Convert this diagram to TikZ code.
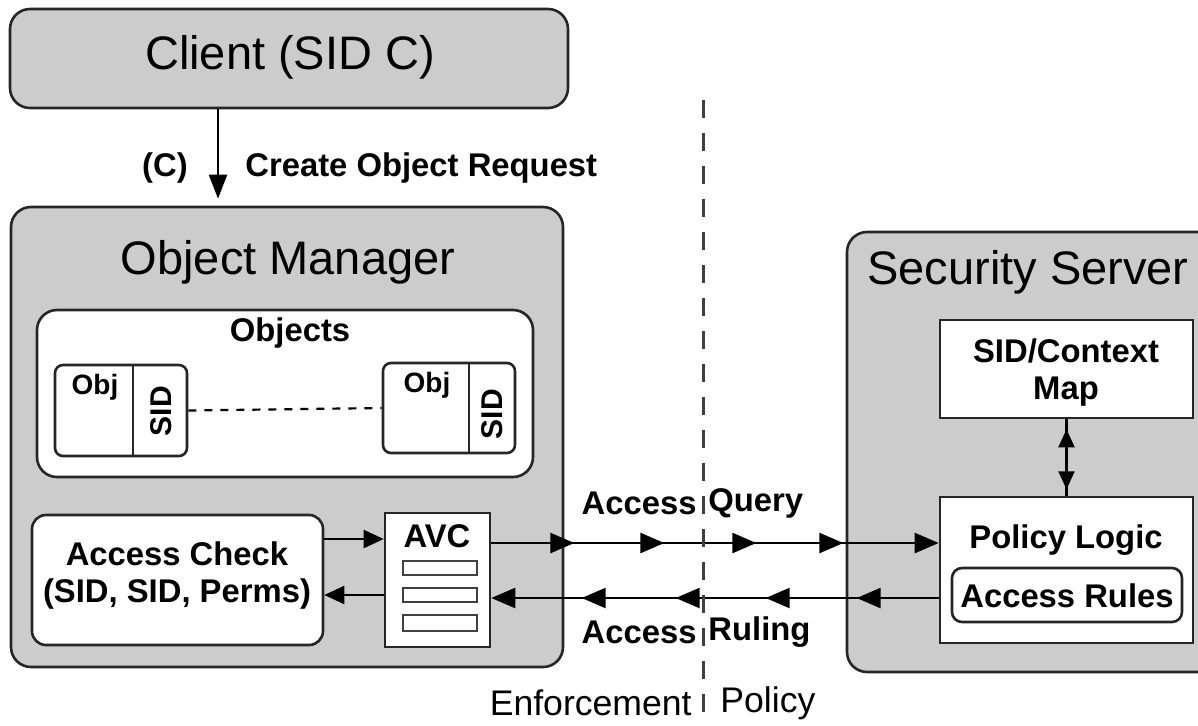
\documentclass[tikz,border=0pt]{standalone}
\usepackage{fontspec}
\setmainfont{Liberation Sans}
\usetikzlibrary{arrows.meta,decorations.markings,fit}

\begin{document}
\begin{tikzpicture}[x=0.5pt,y=-0.5pt,
  box/.style={draw=black!85, line width=1.3pt, inner sep=0pt},
  graybox/.style={box, fill=gray!40, rounded corners=10pt},
  whitebox/.style={box, fill=white},
  title/.style={font=\fontsize{23.5pt}{28pt}\selectfont, inner sep=0pt},
  lbl/.style={font=\fontsize{16.4pt}{18.5pt}\selectfont\bfseries, inner sep=0pt, align=center},
  objlbl/.style={font=\fontsize{14pt}{16pt}\selectfont\bfseries, inner sep=0pt},
  plain/.style={font=\fontsize{17.8pt}{20pt}\selectfont, inner sep=0pt},
  bar/.style={draw=black!75, line width=1.2pt, fill=white},
  mainline/.style={draw=black, line width=1.3pt},
  bigtip/.style={-{Triangle[length=12pt,width=10pt]}},
  smalltip/.style={-{Triangle[length=10pt,width=9pt]}},
  divider/.style={draw=black!75, line width=1.5pt, dash pattern=on 9pt off 7.5pt},
  objline/.style={draw=black, line width=1.1pt, dash pattern=on 4pt off 4pt},
]
\useasboundingbox (0,0) rectangle (1198,725);
\clip (0,0) rectangle (1198,725);

% Client
\node[graybox, fit={(10,9) (568,108)}] (client) {};
\node[title] (clientt) at (290,57) {Client (SID C)};

% Object Manager
\node[graybox, fit={(11,207) (563,667)}] (om) {};
\node[title] (omt) at (288,262) {Object Manager};

\node[whitebox, rounded corners=10pt, fit={(37,310) (533,477)}] (objs) {};
\node[lbl] (objst) at (290,333) {Objects};

\node[whitebox, rounded corners=4pt, fit={(55,365) (187,456)}] (obj1) {};
\draw[box] (133,365) -- (133,456);
\node[objlbl] (obj1t) at (95,387) {Obj};
\node[lbl, rotate=90, font=\fontsize{15pt}{17pt}\selectfont\bfseries] (sid1) at (161,411) {SID};

\node[whitebox, rounded corners=4pt, fit={(383,363) (515,453)}] (obj2) {};
\draw[box] (469,363) -- (469,453);
\node[objlbl] (obj2t) at (427,385) {Obj};
\node[lbl, rotate=90, font=\fontsize{15pt}{17pt}\selectfont\bfseries] (sid2) at (492,414) {SID};

\draw[objline] (obj1.east) -- (obj2.west);

\node[whitebox, rounded corners=7pt, fit={(32,515) (323,645)}] (ac) {};
\node[lbl] (act) at (177,576) {Access Check\\(SID, SID, Perms)};

\node[whitebox, fit={(385,513) (490,647)}] (avc) {};
\node[lbl] (avct) at (437,536) {AVC};
\draw[bar] (403,561) rectangle (477,575);
\draw[bar] (403,588) rectangle (477,602);
\draw[bar] (403,615) rectangle (477,631);

\draw[mainline, line width=1.1pt, smalltip] (ac.east |- 0,539) -- (avc.west |- 0,539);
\draw[mainline, line width=1.1pt, smalltip] (avc.west |- 0,595) -- (ac.east |- 0,595);

% Security Server
\node[graybox, fit={(847,232) (1225,672)}] (ss) {};
\node[title] (sst) at (1028,272) {Security Server};

\node[whitebox, fit={(940,320) (1193,418)}] (map) {};
\node[lbl] (mapt) at (1066,373) {SID/Context\\Map};
\node[whitebox, fit={(940,497) (1193,643)}] (pl) {};
\node[lbl] (plt) at (1066,540) {Policy Logic};
\node[whitebox, rounded corners=5pt, fit={(952,568) (1182,622)}] (rules) {};
\node[lbl] (rulest) at (1067,596) {Access Rules};

\draw[mainline, line width=1.1pt, postaction={decorate}, decoration={markings,
   mark=at position 5pt with {\arrowreversed{Triangle[length=9pt,width=8pt]}},
   mark=at position 35pt with {\arrow{Triangle[length=9pt,width=8pt]}}}]
   (map.south) -- (pl.north);

% Query and ruling
\draw[mainline, bigtip, postaction={decorate}, decoration={markings,
   mark=at position 41.5pt with {\arrow{Triangle[length=12pt,width=10pt]}},
   mark=at position 86.5pt with {\arrow{Triangle[length=12pt,width=10pt]}},
   mark=at position 132.5pt with {\arrow{Triangle[length=12pt,width=10pt]}},
   mark=at position 176pt with {\arrow{Triangle[length=12pt,width=10pt]}}}]
   (avc.east |- 0,543) -- (pl.west |- 0,543);
\draw[mainline, bigtip, postaction={decorate}, decoration={markings,
   mark=at position 41pt with {\arrow{Triangle[length=12pt,width=10pt]}},
   mark=at position 86.5pt with {\arrow{Triangle[length=12pt,width=10pt]}},
   mark=at position 131.5pt with {\arrow{Triangle[length=12pt,width=10pt]}},
   mark=at position 178.5pt with {\arrow{Triangle[length=12pt,width=10pt]}}}]
   (pl.west |- 0,598) -- (avc.east |- 0,598);

% Client -> Object Manager
\draw[mainline, line width=1.1pt, -{Triangle[length=12pt,width=9pt]}, shorten >=3.5pt]
   (client.south -| 218,0) -- (om.north -| 218,0);
\node[lbl, anchor=center] (cl) at (165,168) {(C)};
\node[lbl, anchor=west] (cor) at (245,168) {Create Object Request};

% Divider
\coordinate (dtop) at (703,100);
\coordinate (dbot) at (703,730);
\draw[divider] (dtop) -- (dbot);

\node[lbl, anchor=east] (aq1) at (697,503) {Access};
\node[lbl, anchor=west] (aq2) at (708,503) {Query};
\node[lbl, anchor=east] (ar1) at (697,632) {Access};
\node[lbl, anchor=west] (ar2) at (708,632) {Ruling};
\node[plain, anchor=east] (enf) at (692,703) {Enforcement};
\node[plain, anchor=west] (pol) at (720,703) {Policy};
\end{tikzpicture}
\end{document}
